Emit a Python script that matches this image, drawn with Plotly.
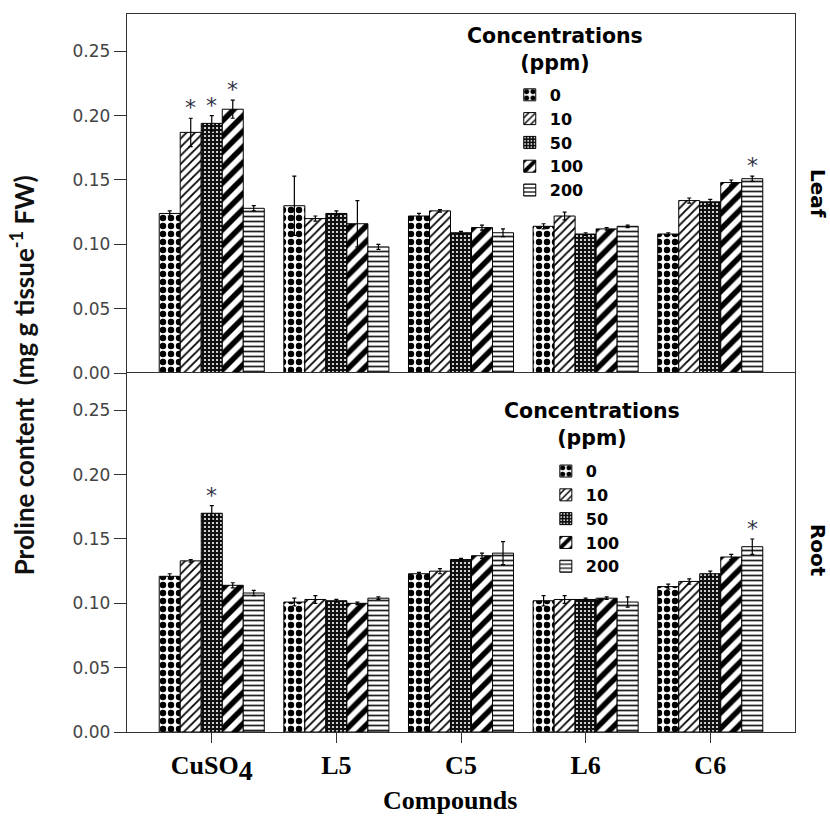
import plotly.graph_objects as go

compounds = ["CuSO<sub><span style='font-size:28px'>4</span></sub>", "L5", "C5", "L6", "C6"]
concentrations = ["0", "10", "50", "100", "200"]

# Leaf values per concentration (across compounds)
leaf_0 = [0.124, 0.130, 0.122, 0.114, 0.108]
leaf_10 = [0.187, 0.120, 0.126, 0.122, 0.134]
leaf_50 = [0.194, 0.124, 0.109, 0.108, 0.133]
leaf_100 = [0.205, 0.116, 0.113, 0.112, 0.148]
leaf_200 = [0.128, 0.098, 0.109, 0.114, 0.151]
leaf_err_0 = [0.002, 0.023, 0.002, 0.002, 0.001]
leaf_err_10 = [0.011, 0.002, 0.001, 0.003, 0.002]
leaf_err_50 = [0.006, 0.002, 0.001, 0.001, 0.002]
leaf_err_100 = [0.007, 0.018, 0.002, 0.001, 0.002]
leaf_err_200 = [0.002, 0.002, 0.003, 0.001, 0.002]

# Root values
root_0 = [0.121, 0.101, 0.123, 0.102, 0.113]
root_10 = [0.133, 0.103, 0.125, 0.103, 0.117]
root_50 = [0.170, 0.102, 0.134, 0.103, 0.123]
root_100 = [0.114, 0.100, 0.137, 0.104, 0.136]
root_200 = [0.108, 0.104, 0.139, 0.101, 0.144]
root_err_0 = [0.002, 0.003, 0.001, 0.004, 0.002]
root_err_10 = [0.001, 0.003, 0.002, 0.003, 0.002]
root_err_50 = [0.006, 0.001, 0.001, 0.001, 0.002]
root_err_100 = [0.002, 0.001, 0.002, 0.001, 0.002]
root_err_200 = [0.002, 0.001, 0.009, 0.004, 0.006]

# significance markers: (compound index, concentration index)
leaf_sig = [(0, 1), (0, 2), (0, 3), (4, 4)]
root_sig = [(0, 2), (4, 4)]

y_ticks = [0.00, 0.05, 0.10, 0.15, 0.20, 0.25]

leaf_vals = [leaf_0, leaf_10, leaf_50, leaf_100, leaf_200]
leaf_errs = [leaf_err_0, leaf_err_10, leaf_err_50, leaf_err_100, leaf_err_200]
root_vals = [root_0, root_10, root_50, root_100, root_200]
root_errs = [root_err_0, root_err_10, root_err_50, root_err_100, root_err_200]

patterns = [
    dict(shape=".", bgcolor="white", fgcolor="black", size=8, solidity=0.5, fillmode="replace"),
    dict(shape="/", bgcolor="white", fgcolor="black", size=6, solidity=0.3, fillmode="replace"),
    dict(shape=".", bgcolor="#111111", fgcolor="white", size=4, solidity=0.22, fillmode="replace"),
    dict(shape="/", bgcolor="white", fgcolor="black", size=11, solidity=0.5, fillmode="replace"),
    dict(shape="-", bgcolor="white", fgcolor="#222222", size=5, solidity=0.35, fillmode="replace"),
]

BARGAP = 0.157
fig = go.Figure()

for panel, (vals, errs, xa, ya, lg) in enumerate([
    (leaf_vals, leaf_errs, "x", "y", "legend"),
    (root_vals, root_errs, "x2", "y2", "legend2"),
]):
    for i, c in enumerate(concentrations):
        fig.add_trace(go.Bar(
            x=compounds, y=vals[i], name=c,
            xaxis=xa, yaxis=ya, legend=lg,
            marker=dict(color="white", pattern=patterns[i],
                        line=dict(color="black", width=1)),
            error_y=dict(type="data", array=errs[i], visible=True,
                         color="black", thickness=1.2, width=2),
            offsetgroup=str(i),
        ))

annotations = []
bw = (1 - BARGAP) / 5
for sig, vals, errs, xr, yr in [
    (leaf_sig, leaf_vals, leaf_errs, "x", "y"),
    (root_sig, root_vals, root_errs, "x2", "y2"),
]:
    for (ci, ki) in sig:
        annotations.append(dict(
            x=ci + (ki - 2) * bw, y=vals[ki][ci] + errs[ki][ci], xref=xr, yref=yr,
            text="*", showarrow=False, yanchor="bottom", yshift=-4,
            font=dict(family="DejaVu Sans", size=22, color="#333344"),
        ))

title_font = dict(family="DejaVu Sans", size=20.5, color="black")
annotations += [
    dict(x=0.6407, y=0.9499, xref="paper", yref="paper", showarrow=False,
         text="<b>Concentrations</b><br><b>(ppm)</b>", font=title_font,
         xanchor="center", yanchor="middle", align="center"),
    dict(x=0.696, y=0.4283, xref="paper", yref="paper", showarrow=False,
         text="<b>Concentrations</b><br><b>(ppm)</b>", font=title_font,
         xanchor="center", yanchor="middle", align="center"),
    dict(x=1.0345, y=0.7507, xref="paper", yref="paper", showarrow=False,
         text="<b>Leaf</b>", textangle=90, font=dict(family="DejaVu Sans", size=20, color="black"),
         xanchor="center", yanchor="middle"),
    dict(x=1.0345, y=0.2535, xref="paper", yref="paper", showarrow=False,
         text="<b>Root</b>", textangle=90, font=dict(family="DejaVu Sans", size=20, color="black"),
         xanchor="center", yanchor="middle"),
    dict(x=-0.157, y=0.497, xref="paper", yref="paper", showarrow=False,
         text="<b>Proline content  (mg g tissue<sup>-1</sup> FW)</b>", textangle=-90,
         font=dict(family="Lato", size=26, color="#111111"),
         xanchor="center", yanchor="middle"),
    dict(x=0.4835, y=-0.096, xref="paper", yref="paper", showarrow=False,
         text="<b>Compounds</b>", font=dict(family="Liberation Serif", size=26, color="black"),
         xanchor="center", yanchor="middle"),
]

LINE_COLOR = "#333333"
yaxis_common = dict(range=[0, 0.279], tickvals=y_ticks, tickformat=".2f",
                    ticks="outside", ticklen=12, tickcolor=LINE_COLOR, tickwidth=1.3,
                    tickfont=dict(family="DejaVu Sans", size=17, color="#444444"),
                    showgrid=False, zeroline=False,
                    showline=True, linecolor=LINE_COLOR, linewidth=1.4, mirror=True)

legend_common = dict(font=dict(family="DejaVu Sans", size=16, color="black", weight="bold"),
                     bgcolor="rgba(0,0,0,0)", borderwidth=0, itemclick=False,
                     traceorder="normal", xanchor="left", yanchor="top",
                     itemwidth=30)

fig.update_layout(
    width=830, height=816,
    margin=dict(l=127, r=35, t=14, b=84),
    paper_bgcolor="white", plot_bgcolor="white",
    barmode="group", bargap=BARGAP, bargroupgap=0,
    showlegend=True,
    # top panel: x axis drawn on the top edge only (frame top)
    xaxis=dict(domain=[0, 1], anchor="y", side="top", showticklabels=False, ticks="",
               range=[-0.68, 4.68], showgrid=False, zeroline=False,
               showline=True, linecolor=LINE_COLOR, linewidth=1.4, mirror=False),
    yaxis=dict(domain=[0.5, 1], anchor="x", **yaxis_common),
    xaxis2=dict(domain=[0, 1], anchor="y2", ticks="outside", ticklen=10,
                tickcolor=LINE_COLOR, tickwidth=1.3,
                tickfont=dict(family="Liberation Serif", size=26, color="black"),
                tickprefix="<b>", ticksuffix="</b>",
                range=[-0.68, 4.68], showgrid=False, zeroline=False,
                showline=True, linecolor=LINE_COLOR, linewidth=1.4, mirror=True),
    yaxis2=dict(domain=[0, 0.5], anchor="x2", **yaxis_common),
    legend=dict(x=0.573, y=0.911, **legend_common),
    legend2=dict(x=0.627, y=0.387, **legend_common),
    annotations=annotations,
)

fig.write_html("out.html", config={"displayModeBar": False},
               post_script="document.body.style.margin='0px';document.body.style.overflow='hidden';")
